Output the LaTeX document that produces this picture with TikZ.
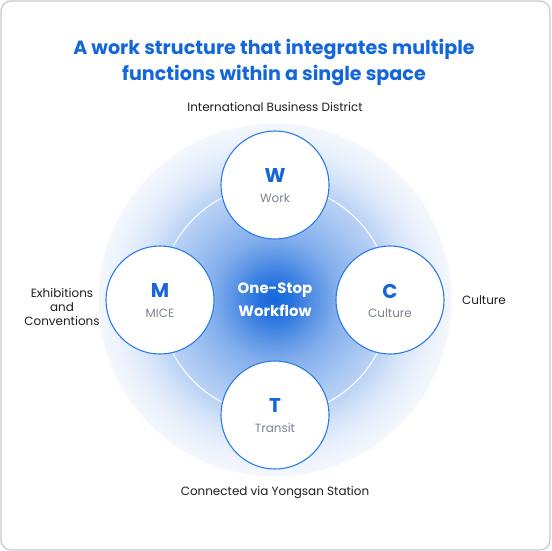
\documentclass[tikz,border=0pt]{standalone}
\usepackage{fontspec}
\setmainfont{Poppins}
\definecolor{titleblue}{HTML}{1467DB}
\definecolor{ringblue}{HTML}{2D7BE5}
\definecolor{labgray}{HTML}{7C8290}
\definecolor{txtdark}{HTML}{1E1E1E}
\definecolor{framegray}{HTML}{C5CAD1}
\tikzset{
  pillar/.style={circle, draw=ringblue, line width=1.1bp, fill=white, minimum size=108bp, inner sep=0pt},
  letter/.style={font=\fontsize{20}{22}\selectfont\bfseries, text=titleblue},
  sublabel/.style={font=\fontsize{12}{14}\selectfont, text=labgray},
  outer/.style={font=\fontsize{12}{14}\selectfont, text=txtdark, align=center},
}
\begin{document}
\begin{tikzpicture}[x=1bp,y=-1bp]
\useasboundingbox (0,0) rectangle (551,551);
\draw[framegray, line width=1.2bp, rounded corners=10bp, fill=white] (1,1) rectangle (550,550);
\node[font=\fontsize{19.2}{26}\selectfont\bfseries, text=titleblue, align=center] (title) at (274,62.5) {A work structure that integrates multiple\\functions within a single space};
\coordinate (o) at (275,300);
% soft glow built from concentric discs
\fill[titleblue!2!white] (o) circle (177);
\foreach \ra/\pa/\rb/\pb in {176/5/165/7, 165/7/141/15, 141/15/116/29, 116/29/92/39, 92/39/63/53, 63/53/42/70, 42/70/17/92, 17/92/0/100}{
  \pgfmathtruncatemacro\nsteps{\ra-\rb}
  \foreach \i in {0,...,\nsteps}{
    \pgfmathsetmacro\rr{\ra-\i}
    \pgfmathsetmacro\pp{\pa+(\pb-\pa)*\i/\nsteps}
    \fill[titleblue!\pp!white] (o) circle ({max(\rr,0.01)});
  }
}
\draw[white, line width=1.1bp, opacity=0.9] (o) circle (115);
\node[pillar] (w) at (275,185) {};
\node[pillar] (m) at (160,300) {};
\node[pillar] (c) at (390,300) {};
\node[pillar] (t) at (275,415) {};
\node[letter] (wl) at (275,176) {W};
\node[sublabel] (ws) at (275,198) {Work};
\node[letter] (ml) at (160,291) {M};
\node[sublabel] (ms) at (160,313) {MICE};
\node[letter] (cl) at (390,291) {C};
\node[sublabel] (cs) at (390,313) {Culture};
\node[letter] (tl) at (275,406) {T};
\node[sublabel] (ts) at (275,428) {Transit};
\node[font=\fontsize{15}{23}\selectfont\bfseries, text=white, align=center] (center) at (275,300) {One-Stop\\Workflow};
\node[outer] (top) at (275,107) {International Business District};
\node[outer] (left) at (62,307) {Exhibitions\\and\\Conventions};
\node[outer] (right) at (484,300) {Culture};
\node[outer] (bottom) at (275,493) {Connected via Yongsan Station};
\end{tikzpicture}
\end{document}
